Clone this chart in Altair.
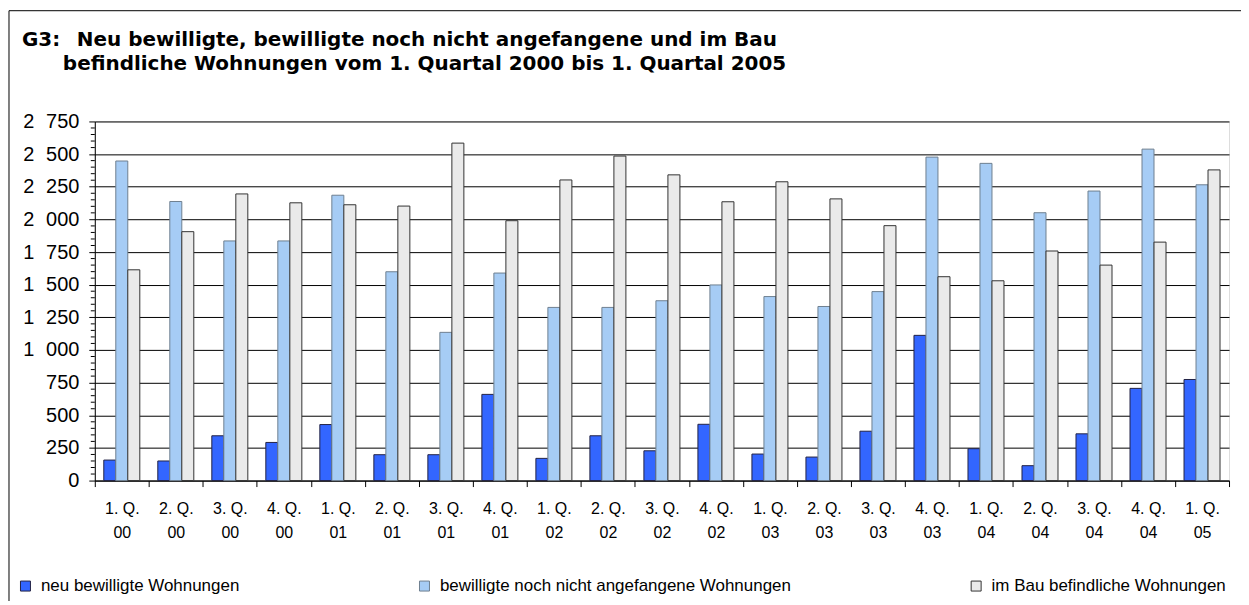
import altair as alt
import pandas as pd

labels = ["1. Q. 00", "2. Q. 00", "3. Q. 00", "4. Q. 00",
          "1. Q. 01", "2. Q. 01", "3. Q. 01", "4. Q. 01",
          "1. Q. 02", "2. Q. 02", "3. Q. 02", "4. Q. 02",
          "1. Q. 03", "2. Q. 03", "3. Q. 03", "4. Q. 03",
          "1. Q. 04", "2. Q. 04", "3. Q. 04", "4. Q. 04",
          "1. Q. 05"]

series = ["neu bewilligte Wohnungen",
          "bewilligte noch nicht angefangene Wohnungen",
          "im Bau befindliche Wohnungen"]

neu = [157, 150, 343, 292, 429, 198, 198, 660, 170, 343, 228, 431,
       203, 180, 378, 1112, 244, 114, 358, 706, 774]
nicht_angefangen = [2447, 2137, 1835, 1835, 2185, 1599, 1135, 1589, 1326, 1326, 1377, 1498,
                    1409, 1333, 1447, 2477, 2429, 2051, 2217, 2538, 2265]
im_bau = [1614, 1906, 2195, 2127, 2112, 2102, 2584, 1990, 2302, 2485, 2341, 2135,
          2288, 2157, 1952, 1561, 1530, 1758, 1650, 1826, 2379]

y_major = [0, 250, 500, 750, 1000, 1250, 1500, 1750, 2000, 2250, 2500, 2750]
y_minor = [v for v in range(0, 2751, 50) if v % 250 != 0]

colors = ["#3366FF", "#A6CCF5", "#EAEAEA"]
strokes = ["#222244", "#6E7F90", "#333333"]

rows = []
for i, lab in enumerate(labels):
    for s, vals in zip(series, [neu, nicht_angefangen, im_bau]):
        rows.append({"Quartal": lab, "Serie": s, "Wert": vals[i]})
df = pd.DataFrame(rows)

FONT = "Liberation Sans"
TFONT = "DejaVu Sans"
W, H = 1137, 360

one = alt.Data(values=[{}])

y_axis = alt.Axis(title=None, values=y_major,
                  labelExpr="replace(format(datum.value, ','), ',', '\u2002\u200a')",
                  labelFont=FONT, labelFontSize=20, labelColor="black",
                  labelPadding=10, tickSize=6, tickColor="black",
                  domainColor="black", grid=True, gridColor="black",
                  gridOpacity=1)
y_scale = alt.Scale(domain=[0, 2750], nice=False)

frame = alt.Chart(one).mark_rect(fill="white", fillOpacity=0, stroke="black", strokeWidth=1).encode(
    x=alt.value(-86), x2=alt.value(W + 300), y=alt.value(-111), y2=alt.value(H + 300)
)

bars = alt.Chart(df).mark_bar(strokeWidth=1).encode(
    x=alt.X("Quartal:N", sort=labels,
            scale=alt.Scale(paddingInner=0, paddingOuter=0),
            axis=alt.Axis(title=None, labelAngle=0, tickBand="extent",
                          labelExpr="[substring(datum.label, 0, 5), substring(datum.label, 6)]",
                          labelFont=FONT, labelFontSize=16, labelColor="black",
                          labelLineHeight=24, labelPadding=14,
                          tickSize=6, tickColor="black", domainColor="black",
                          grid=False)),
    xOffset=alt.XOffset("Serie:N", sort=series,
                        scale=alt.Scale(paddingInner=0, paddingOuter=0.75)),
    y=alt.Y("Wert:Q", scale=y_scale, axis=y_axis),
    color=alt.Color("Serie:N", sort=series,
                    scale=alt.Scale(domain=series, range=colors),
                    legend=alt.Legend(title=None, orient="none", legendX=-78, legendY=457,
                                      direction="horizontal", columns=3,
                                      columnPadding=176, symbolType="square",
                                      symbolSize=100, symbolStrokeColor="#333333",
                                      symbolStrokeWidth=1, labelFont=FONT,
                                      labelFontSize=17, labelColor="black",
                                      labelLimit=0, labelOffset=7)),
    stroke=alt.Stroke("Serie:N", sort=series,
                      scale=alt.Scale(domain=series, range=strokes), legend=None),
)

minor = alt.Chart(pd.DataFrame({"Wert": y_minor})).mark_rule(color="black", strokeWidth=1).encode(
    y=alt.Y("Wert:Q", scale=y_scale, axis=y_axis), x=alt.value(-4), x2=alt.value(0)
)

t1a = alt.Chart(one).mark_text(align="left", baseline="alphabetic", font=TFONT,
                               fontSize=20, fontWeight="bold", color="black").encode(
    x=alt.value(-73), y=alt.value(-76), text=alt.value("G3:"))
t1b = alt.Chart(one).mark_text(align="left", baseline="alphabetic", font=TFONT,
                               fontSize=20, fontWeight="bold", color="black").encode(
    x=alt.value(-18), y=alt.value(-76),
    text=alt.value("Neu bewilligte, bewilligte noch nicht angefangene und im Bau"))
t2 = alt.Chart(one).mark_text(align="left", baseline="alphabetic", font=TFONT,
                              fontSize=20, fontWeight="bold", color="black").encode(
    x=alt.value(-32), y=alt.value(-52),
    text=alt.value("befindliche Wohnungen vom 1. Quartal 2000 bis 1. Quartal 2005"))

chart = alt.layer(frame, bars, minor, t1a, t1b, t2).properties(
    width=W, height=H,
    autosize=alt.AutoSizeParams(type="none"),
    padding={"left": 87, "top": 113, "right": 12, "bottom": 120},
).configure_view(stroke="#808080", strokeWidth=1).configure(background="white")

chart.save("out.html", embed_options={"renderer": "svg", "actions": False})
